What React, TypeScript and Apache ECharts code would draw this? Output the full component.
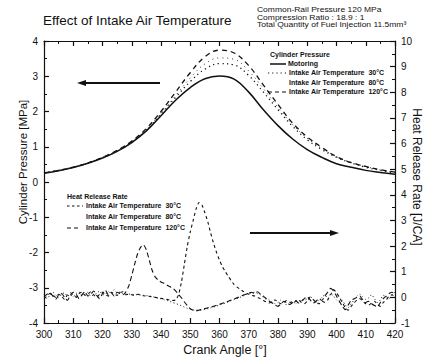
import React, { useEffect, useRef } from 'react';
import * as echarts from 'echarts';

const TITLE = 'Effect of Intake Air Temperature';
const CONDITIONS = [
  'Common-Rail Pressure 120 MPa',
  'Compression Ratio : 18.9 : 1',
  'Total Quantity of Fuel Injection 11.5mm³',
];
const X_NAME = 'Crank Angle [°]';
const Y_LEFT_NAME = 'Cylinder Pressure [MPa]';
const Y_RIGHT_NAME = 'Heat Release Rate [J/CA]';

const P_LEGEND_TITLE = 'Cylinder Pressure';
const P_LEGEND = ['Motoring', 'Intake Air Temperature  30°C', 'Intake Air Temperature  80°C', 'Intake Air Temperature  120°C'];
const H_LEGEND_TITLE = 'Heat Release Rate';
const H_LEGEND = ['Intake Air Temperature  30°C', 'Intake Air Temperature  80°C', 'Intake Air Temperature  120°C'];

// Cylinder pressure (left axis), every 5 deg
const P_ANGLES = [300, 305, 310, 315, 320, 325, 330, 335, 340, 345, 350, 355, 360, 365, 370, 375, 380, 385, 390, 395, 400, 405, 410, 415, 420];
const P_MOTORING = [0.25, 0.32, 0.41, 0.53, 0.68, 0.87, 1.12, 1.45, 1.88, 2.32, 2.68, 2.93, 3.01, 2.92, 2.55, 2.05, 1.6, 1.22, 0.92, 0.7, 0.52, 0.42, 0.33, 0.27, 0.22];
const P_30 = [0.26, 0.33, 0.42, 0.54, 0.69, 0.88, 1.13, 1.47, 1.92, 2.4, 2.85, 3.2, 3.36, 3.32, 3.02, 2.55, 2.05, 1.58, 1.2, 0.92, 0.7, 0.54, 0.42, 0.33, 0.26];
const P_80 = [0.26, 0.33, 0.42, 0.54, 0.69, 0.88, 1.14, 1.49, 1.95, 2.45, 2.95, 3.35, 3.52, 3.48, 3.15, 2.65, 2.12, 1.63, 1.24, 0.95, 0.72, 0.56, 0.44, 0.34, 0.27];
const P_120 = [0.26, 0.33, 0.42, 0.54, 0.7, 0.9, 1.16, 1.52, 2.0, 2.55, 3.1, 3.55, 3.74, 3.66, 3.3, 2.75, 2.2, 1.67, 1.28, 0.98, 0.72, 0.55, 0.44, 0.35, 0.28];

// Heat release rate (right axis), one value per degree starting at 300 deg
const HRR_START = 300;
const HRR_30 = [
  -0.05, 0.05, 0.15, 0.1, 0.0, 0.12, 0.05, -0.08, 0.1, 0.18,
  0.1, 0.0, 0.15, 0.2, 0.08, 0.12, 0.22, 0.1, 0.0, 0.12,
  0.2, 0.1, 0.05, 0.2, 0.12, 0.08, 0.18, 0.22, 0.1, 0.12,
  0.1, 0.08, 0.12, 0.1, 0.06, 0.05, 0.04, 0.02, 0.0, -0.02,
  -0.04, -0.06, -0.08, -0.1, -0.12, -0.1, 0.1, 0.6, 1.3, 2.0,
  2.55, 3.0, 3.45, 3.7, 3.6, 3.3, 2.95, 2.5, 2.1, 1.75,
  1.45, 1.2, 1.0, 0.82, 0.65, 0.5, 0.4, 0.32, 0.24, 0.17,
  0.12, 0.08, 0.05, 0.0, -0.05, -0.12, -0.18, -0.22, -0.15, -0.1,
  -0.18, -0.25, -0.2, -0.12, -0.18, -0.25, -0.15, -0.1, -0.2, -0.25,
  -0.15, 0.0, -0.08, -0.18, -0.25, -0.15, -0.2, -0.1, 0.1, 0.3,
  0.18, 0.0, -0.2, -0.4, -0.5, -0.35, -0.22, -0.1, -0.05, -0.15,
  -0.25, -0.3, -0.22, -0.15, -0.28, -0.35, -0.2, -0.1, 0.05, 0.1,
  0.0,
];
const HRR_80 = [
  0.1, -0.05, 0.08, 0.2, 0.1, -0.02, 0.12, 0.18, 0.05, 0.1,
  0.02, 0.15, 0.22, 0.08, 0.12, 0.2, 0.05, 0.1, 0.15, 0.25,
  0.1, 0.12, 0.22, 0.15, 0.3, 0.18, 0.2, 0.15, 0.14, 0.13,
  0.12, 0.11, 0.1, 0.09, 0.08, 0.07, 0.05, 0.03, 0.0, -0.03,
  -0.06, -0.09, -0.12, -0.16, -0.2, -0.24, -0.28, -0.33, -0.38, -0.43,
  -0.47, -0.49, -0.5, -0.5, -0.49, -0.47, -0.44, -0.41, -0.38, -0.34,
  -0.3, -0.26, -0.22, -0.18, -0.13, -0.09, -0.05, 0.0, 0.05, 0.1,
  0.15, 0.18, 0.2, 0.15, 0.1, 0.0, -0.08, -0.1, -0.18, -0.25,
  -0.2, -0.1, -0.18, -0.3, -0.22, -0.15, -0.25, -0.18, -0.08, -0.12,
  -0.05, 0.05, -0.1, -0.2, -0.12, 0.0, 0.1, -0.05, 0.15, 0.05,
  -0.1, -0.2, -0.12, -0.3, -0.4, -0.25, -0.1, 0.05, 0.12, 0.02,
  -0.08, -0.02, 0.1, -0.05, -0.2, -0.1, 0.08, 0.02, -0.05, 0.12,
  0.2,
];
const HRR_120 = [
  0.02, 0.12, 0.18, 0.05, -0.08, 0.1, 0.15, 0.0, -0.12, 0.08,
  0.2, 0.12, -0.05, 0.1, 0.22, 0.05, 0.12, 0.25, 0.08, -0.05,
  0.15, 0.28, 0.1, 0.18, 0.05, 0.2, 0.15, 0.1, 0.22, 0.45,
  0.85, 1.3, 1.7, 1.95, 2.05, 1.85, 1.45, 1.05, 0.8, 0.68,
  0.6, 0.55, 0.48, 0.42, 0.36, 0.25, 0.12, -0.02, -0.18, -0.32,
  -0.44, -0.5, -0.52, -0.5, -0.47, -0.44, -0.41, -0.38, -0.35, -0.31,
  -0.27, -0.23, -0.19, -0.15, -0.1, -0.06, -0.02, 0.03, 0.08, 0.12,
  0.17, 0.2, 0.15, 0.22, 0.12, 0.05, -0.05, -0.15, -0.22, -0.3,
  -0.35, -0.25, -0.15, -0.22, -0.28, -0.2, -0.12, -0.22, -0.15, -0.05,
  0.02, -0.1, -0.22, -0.15, -0.05, -0.12, 0.05, 0.2, 0.35, 0.25,
  0.05, -0.15, -0.35, -0.48, -0.3, -0.12, -0.05, 0.0, 0.05, -0.1,
  -0.2, -0.15, -0.25, -0.32, -0.37, -0.2, -0.05, 0.05, 0.15, 0.2,
  0.12,
];

const FONT = '"Liberation Sans", Arial, sans-serif';
const INK = '#111';

function zipP(ys: number[]) {
  return ys.map((v, i) => [P_ANGLES[i], v]);
}
function zipH(ys: number[]) {
  return ys.map((v, i) => [HRR_START + i, v]);
}

export default function App() {
  const ref = useRef<HTMLDivElement>(null);
  useEffect(() => {
    document.body.style.margin = '0';
    if (!ref.current) return;
    const chart = echarts.init(ref.current, undefined, { renderer: 'svg' });

    const tickCommon = {
      axisLine: { show: true, onZero: false, lineStyle: { color: INK, width: 1.2 } },
      axisTick: { show: true, inside: true, length: 5, lineStyle: { color: INK, width: 1.2 } },
      minorTick: { show: true, splitNumber: 2, length: 3, lineStyle: { color: INK, width: 1 } },
      splitLine: { show: false },
    };
    const labelStyle = { color: INK, fontSize: 10, fontFamily: FONT };

    const legendText = (text: string, x: number, y: number) => ({
      type: 'text', x, y, scaleX: 1.08,
      style: { text, fill: INK, fontSize: 6.5, fontWeight: 'bold', fontFamily: FONT, verticalAlign: 'middle', align: 'left' },
    });
    const sample = (x1: number, x2: number, y: number, dash: number[] | null, w = 1) => ({
      type: 'line',
      shape: { x1, y1: y, x2, y2: y },
      style: { stroke: INK, lineWidth: w, lineDash: dash || undefined },
    });
    const condText = (text: string, y: number) => ({
      type: 'text', x: 257, y, scaleX: 1.18,
      style: { text, fill: INK, fontSize: 7.2, fontFamily: FONT, verticalAlign: 'middle' },
    });

    const option: any = {
      animation: false,
      backgroundColor: '#fff',
      grid: { left: 44, right: 33, top: 41, bottom: 35 },
      xAxis: [
        {
          type: 'value', min: 300, max: 420, interval: 10, position: 'bottom',
          ...tickCommon,
          axisLabel: { ...labelStyle, margin: 6 },
        },
        {
          type: 'value', min: 300, max: 420, interval: 10, position: 'top',
          ...tickCommon,
          axisLabel: { show: false },
        },
      ],
      yAxis: [
        {
          type: 'value', min: -4, max: 4, interval: 1, position: 'left',
          ...tickCommon,
          axisLabel: { ...labelStyle, margin: 6 },
        },
        {
          type: 'value', min: -1, max: 10, interval: 1, position: 'right',
          ...tickCommon,
          axisLabel: { ...labelStyle, margin: 6 },
        },
      ],
      series: [
        { name: 'P Motoring', type: 'line', yAxisIndex: 0, data: zipP(P_MOTORING), smooth: 0.4, showSymbol: false, lineStyle: { color: INK, width: 1.5 } },
        { name: 'P 30', type: 'line', yAxisIndex: 0, data: zipP(P_30), smooth: 0.4, showSymbol: false, lineStyle: { color: INK, width: 1.3, type: [1.2, 3.5] } },
        { name: 'P 80', type: 'line', yAxisIndex: 0, data: zipP(P_80), smooth: 0.4, showSymbol: false, lineStyle: { color: '#333', width: 1, type: [1, 4] } },
        { name: 'P 120', type: 'line', yAxisIndex: 0, data: zipP(P_120), smooth: 0.4, showSymbol: false, lineStyle: { color: INK, width: 1.3, type: [5, 4] } },
        { name: 'H 30', type: 'line', yAxisIndex: 1, data: zipH(HRR_30), smooth: 0.2, showSymbol: false, lineStyle: { color: INK, width: 1.1, type: [3, 3] } },
        { name: 'H 80', type: 'line', yAxisIndex: 1, data: zipH(HRR_80), smooth: 0.2, showSymbol: false, lineStyle: { color: '#222', width: 1, type: [1, 2.5] } },
        { name: 'H 120', type: 'line', yAxisIndex: 1, data: zipH(HRR_120), smooth: 0.2, showSymbol: false, lineStyle: { color: INK, width: 1.1, type: [5, 3] } },
      ],
      graphic: [
        { type: 'text', x: 43, y: 20, style: { text: TITLE, fill: INK, fontSize: 13.5, fontFamily: FONT, verticalAlign: 'middle' } },
        condText(CONDITIONS[0], 10),
        condText(CONDITIONS[1], 17.5),
        condText(CONDITIONS[2], 25),
        { type: 'text', x: 225, y: 350, style: { text: X_NAME, fill: INK, fontSize: 12.5, fontFamily: FONT, align: 'center', verticalAlign: 'middle' } },
        { type: 'text', x: 23, y: 162, rotation: Math.PI / 2, style: { text: Y_LEFT_NAME, fill: INK, fontSize: 11.5, fontFamily: FONT, align: 'center', verticalAlign: 'middle' } },
        { type: 'text', x: 417, y: 177, rotation: -Math.PI / 2, style: { text: Y_RIGHT_NAME, fill: INK, fontSize: 12, fontFamily: FONT, align: 'center', verticalAlign: 'middle' } },
        // pressure legend
        legendText(P_LEGEND_TITLE, 270, 55),
        sample(270, 286, 64, null, 1.5),
        legendText(P_LEGEND[0], 288, 64),
        sample(268, 286, 73, [1.2, 3]),
        legendText(P_LEGEND[1], 289, 73),
        legendText(P_LEGEND[2], 289, 83),
        sample(268, 286, 92, [4, 3]),
        legendText(P_LEGEND[3], 289, 92),
        // heat release legend
        legendText(H_LEGEND_TITLE, 67, 197),
        sample(67, 83, 206, [2.5, 2.5]),
        legendText(H_LEGEND[0], 86, 206),
        legendText(H_LEGEND[1], 86, 217),
        sample(67, 81, 228, [4, 3]),
        legendText(H_LEGEND[2], 86, 228),
        // arrows
        { type: 'line', shape: { x1: 82, y1: 83, x2: 160, y2: 83 }, style: { stroke: INK, lineWidth: 2 } },
        { type: 'polygon', shape: { points: [[77, 83], [86, 80], [86, 86]] }, style: { fill: INK } },
        { type: 'line', shape: { x1: 250, y1: 233, x2: 333, y2: 233 }, style: { stroke: INK, lineWidth: 2 } },
        { type: 'polygon', shape: { points: [[339, 233], [330, 230], [330, 236]] }, style: { fill: INK } },
      ],
    };
    chart.setOption(option);
    return () => chart.dispose();
  }, []);
  return <div ref={ref} style={{ width: 428, height: 358 }} />;
}
